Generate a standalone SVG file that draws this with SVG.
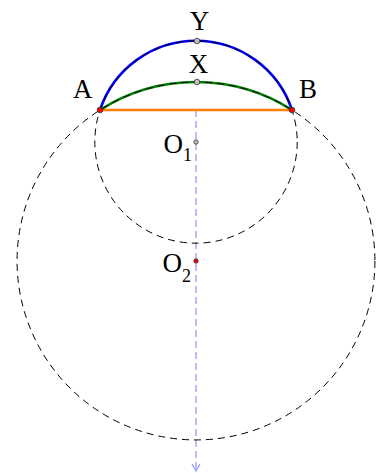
<svg xmlns="http://www.w3.org/2000/svg" width="385" height="473" viewBox="0 0 385 473">
<defs>
<style>
.lbl{font-family:"Liberation Serif","Times New Roman",serif;font-size:27px;fill:#000}
.sub{font-size:18px}
.dash{fill:none;stroke:#000;stroke-width:1;stroke-dasharray:7 5}
.axis{fill:none;stroke:#9999ff;stroke-width:1.3;stroke-dasharray:7 4}
.arc{fill:none;stroke-width:2.6}
.pt-red{fill:#ff0000;stroke:#333;stroke-width:0.8}
.pt-gray{fill:#c0c0c0;stroke:#333;stroke-width:0.8}
</style>
<marker id="arrow" markerWidth="10" markerHeight="10" refX="5" refY="8" orient="0" markerUnits="userSpaceOnUse">
<path d="M1,1 L5,8 L9,1" fill="none" stroke="#9999ff" stroke-width="1.3"/>
</marker>
</defs>
<rect width="385" height="473" fill="#fff"/>
<g id="connectors">
<line class="axis" x1="196" y1="110" x2="196" y2="471" marker-end="url(#arrow)"/>
<line id="chord-AB" x1="100" y1="110" x2="292" y2="110" stroke="#ff8000" stroke-width="2.6"/>
<path id="arc-AYB" class="arc" stroke="#0000ff" d="M100,110 A101.19,101.19 0 0 1 292,110"/>
<path id="arc-AXB" class="arc" stroke="#008000" d="M100,110 A178.93,178.93 0 0 1 292,110"/>
<circle id="circle-O1" class="dash" cx="196" cy="142" r="101.19"/>
<circle id="circle-O2" class="dash" cx="196" cy="261" r="178.93"/>
</g>
<g id="node-A">
<circle class="pt-red" cx="100" cy="110" r="2.8"/>
<text class="lbl" x="73" y="98">A</text>
</g>
<g id="node-B">
<circle class="pt-red" cx="292" cy="110" r="2.8"/>
<text class="lbl" x="299" y="98">B</text>
</g>
<g id="node-Y">
<circle class="pt-gray" cx="197" cy="41" r="2.8"/>
<text class="lbl" x="199.5" y="29.5" text-anchor="middle">Y</text>
</g>
<g id="node-X">
<circle class="pt-gray" cx="197" cy="82" r="2.8"/>
<text class="lbl" x="198.5" y="73" text-anchor="middle">X</text>
</g>
<g id="node-O1">
<circle class="pt-gray" cx="196" cy="142" r="2.2"/>
<text class="lbl" x="163.5" y="153">O<tspan class="sub" dy="8">1</tspan></text>
</g>
<g id="node-O2">
<circle class="pt-red" cx="196" cy="261" r="2.2"/>
<text class="lbl" x="162.5" y="272">O<tspan class="sub" dy="10">2</tspan></text>
</g>
</svg>
